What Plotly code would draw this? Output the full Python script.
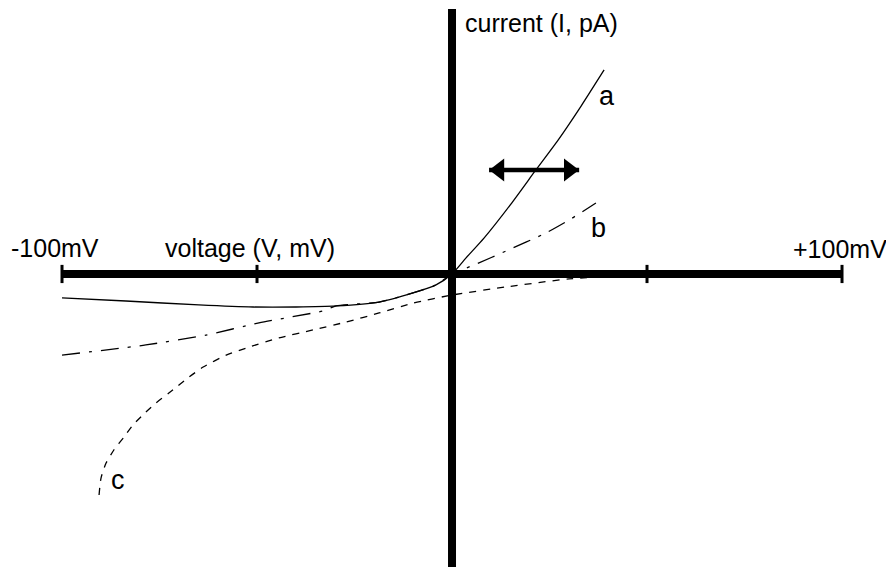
import plotly.graph_objects as go

# schematic I-V curves (voltage in mV, current in pA)
a_volt = [-100, -83.6, -64.9, -51.0, -40.0, -29.7, -18.7, -10.0, -4.1, 0, 3.6, 8.2, 15.1, 21.5, 27.2, 33.1, 39.0]
a_curr = [-0.92, -1.04, -1.19, -1.27, -1.27, -1.23, -1.08, -0.73, -0.42, 0, 0.62, 1.38, 2.69, 4.0, 5.15, 6.46, 7.85]

b_volt = [-100, -78.5, -63.1, -49.5, -33.1, -29.7, -18.7, -10.0, -4.1, 0, 6.2, 13.8, 24.1, 30.5, 36.9]
b_curr = [-3.12, -2.73, -2.35, -1.88, -1.42, -1.23, -1.08, -0.73, -0.42, 0, 0.38, 0.88, 1.58, 2.12, 2.73]

c_volt = [-90.5, -90.0, -88.7, -86.7, -84.1, -81.8, -78.5, -75.9, -72.6, -67.4, -63.8, -57.9, -52.8,
          -44.4, -35.6, -27.2, -18.7, -10.0, 0, 13.8, 30.0, 44.6, 52.3]
c_curr = [-8.5, -7.85, -7.27, -6.77, -6.27, -5.81, -5.31, -4.96, -4.58, -3.96, -3.58, -3.12, -2.85,
          -2.46, -2.15, -1.85, -1.5, -1.12, -0.81, -0.5, -0.19, -0.04, 0]

ticks_mv = [-100, -50, 50, 100]
arrow_mv = [9.5, 32.6]
arrow_pa = 4.0

FONT = "Liberation Sans, Arial, Helvetica, sans-serif"

fig = go.Figure()

fig.add_trace(go.Scatter(x=a_volt, y=a_curr, mode="lines",
                         line=dict(color="black", width=1.3, shape="spline", smoothing=0.6),
                         hoverinfo="skip"))
fig.add_trace(go.Scatter(x=b_volt, y=b_curr, mode="lines",
                         line=dict(color="black", width=1.3, shape="spline", smoothing=0.6,
                                   dash="18px,9px,3px,9px"),
                         hoverinfo="skip"))
fig.add_trace(go.Scatter(x=c_volt, y=c_curr, mode="lines",
                         line=dict(color="black", width=1.3, shape="spline", smoothing=0.6,
                                   dash="7px,7px"),
                         hoverinfo="skip"))

# double-headed arrow
fig.add_trace(go.Scatter(x=arrow_mv, y=[arrow_pa, arrow_pa], mode="lines",
                         line=dict(color="black", width=4.5), hoverinfo="skip"))
fig.add_trace(go.Scatter(x=[arrow_mv[0] + 2.6, arrow_mv[1] - 2.6], y=[arrow_pa, arrow_pa], mode="markers",
                         marker=dict(symbol=["triangle-left", "triangle-right"], size=20, color="black"),
                         hoverinfo="skip"))

shapes = [
    dict(type="line", x0=-100, x1=100, y0=0, y1=0, line=dict(color="black", width=8)),
    dict(type="line", x0=0, x1=0, y0=10.19, y1=-12, line=dict(color="black", width=8)),
]
for t in ticks_mv:
    shapes.append(dict(type="line", x0=t, x1=t, y0=-0.35, y1=0.35, line=dict(color="black", width=3)))

tf = dict(family=FONT, size=25, color="black")
lf = dict(family=FONT, size=27, color="black")
annotations = [
    dict(x=-101.8, y=1.0, text="-100mV", showarrow=False, font=tf, xanchor="center", yanchor="middle"),
    dict(x=-51.8, y=1.0, text="voltage (V, mV)", showarrow=False, font=tf, xanchor="center", yanchor="middle"),
    dict(x=99.5, y=0.96, text="+100mV", showarrow=False, font=tf, xanchor="center", yanchor="middle"),
    dict(x=3.0, y=10.23, text="current (I, pA)", showarrow=False, font=tf, xanchor="left", yanchor="top",
         borderpad=0),
    dict(x=37.2, y=6.83, text="a", showarrow=False, font=lf, xanchor="left", yanchor="middle"),
    dict(x=35.1, y=1.77, text="b", showarrow=False, font=lf, xanchor="left", yanchor="middle"),
    dict(x=-87.9, y=-7.92, text="c", showarrow=False, font=lf, xanchor="left", yanchor="middle"),
]

# page body adds an 8px offset, so the figure is slightly smaller than the window
fig.update_layout(
    width=886, height=559,
    margin=dict(l=0, r=0, t=0, b=0),
    paper_bgcolor="white", plot_bgcolor="white",
    showlegend=False,
    shapes=shapes,
    annotations=annotations,
    xaxis=dict(range=[-113.85, 113.33], visible=False, fixedrange=True),
    yaxis=dict(range=[-11.27, 10.23], visible=False, fixedrange=True),
)

fig.write_html("out.html")
